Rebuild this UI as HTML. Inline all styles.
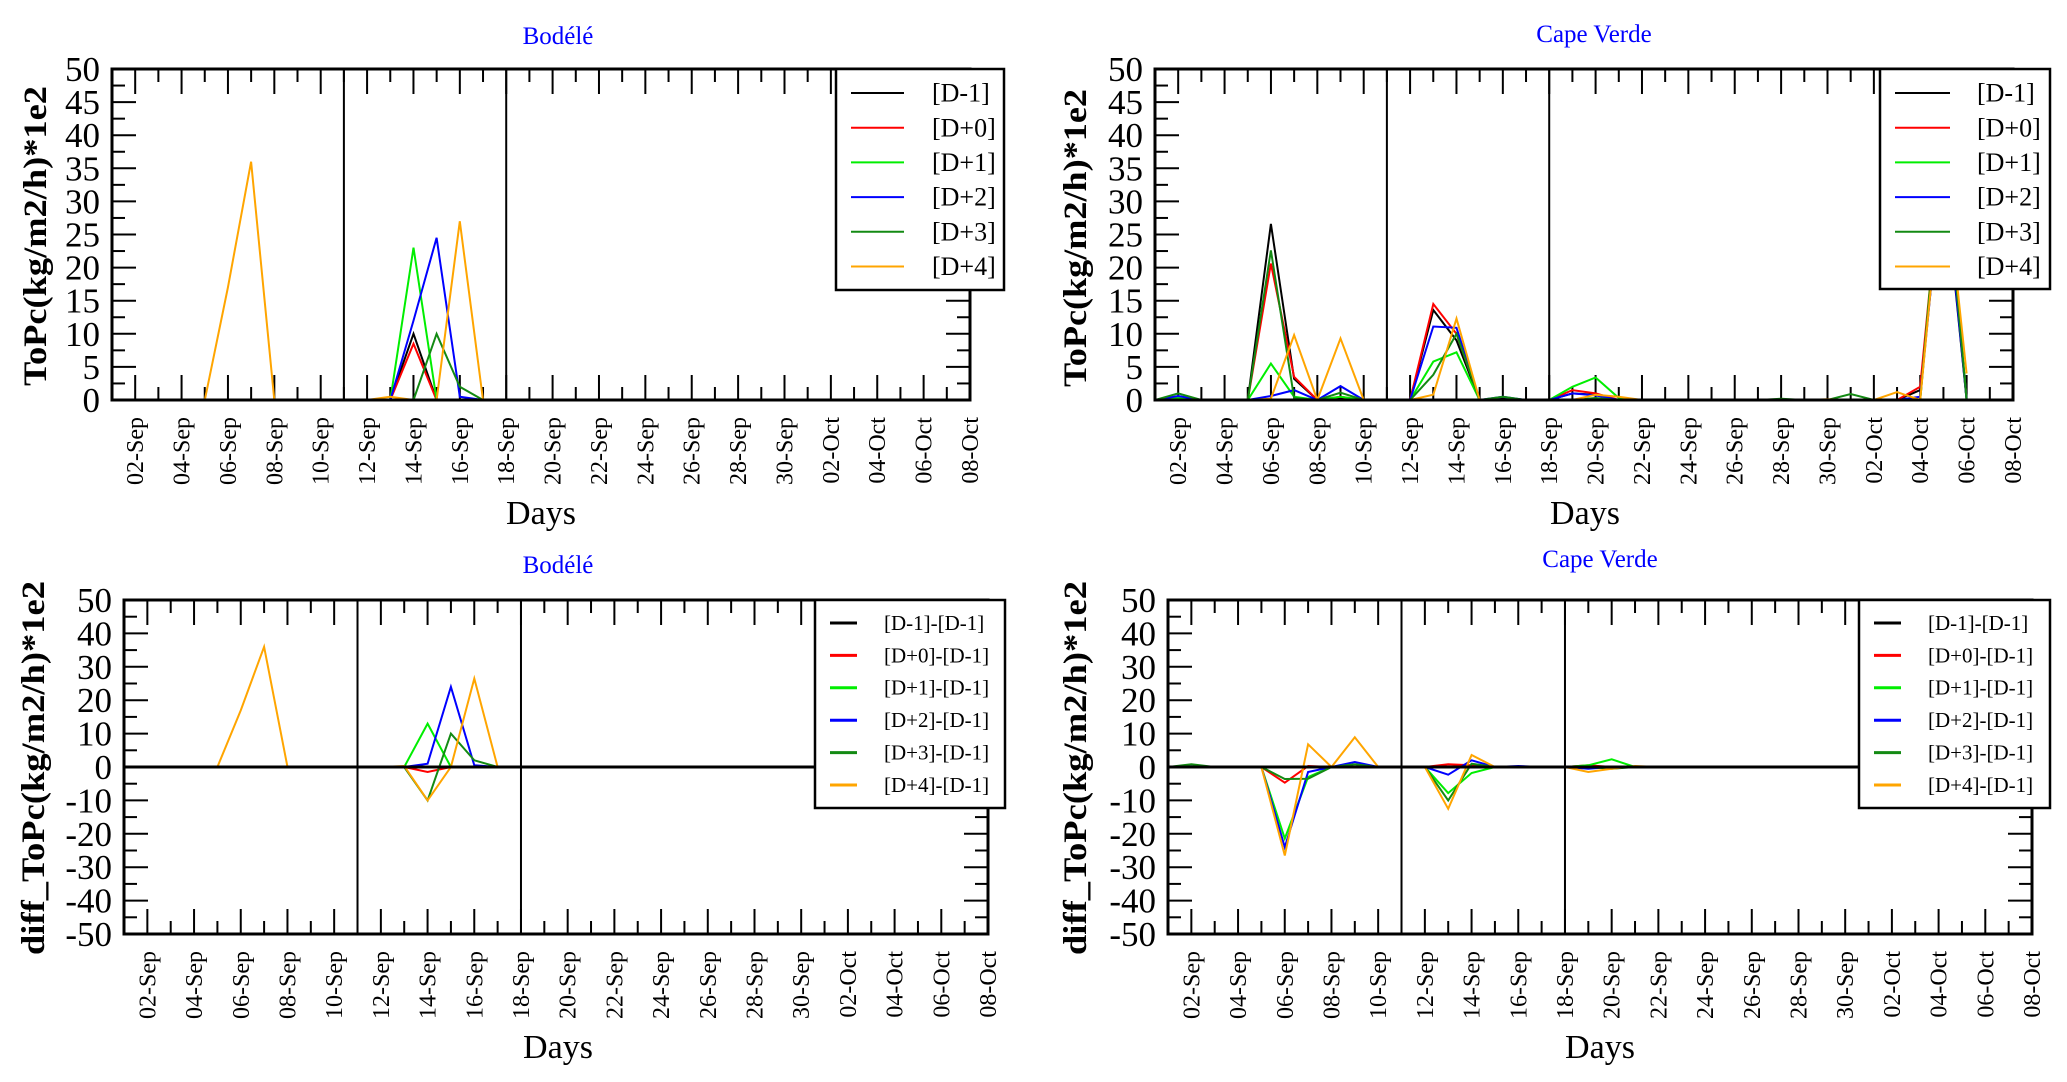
<!DOCTYPE html>
<html><head><meta charset="utf-8"><style>
html,body{margin:0;padding:0;background:#fff;}
svg{display:block;}
text{font-family:"Liberation Serif","DejaVu Serif",serif;}
</style></head><body>
<svg id="chart" width="2067" height="1082" viewBox="0 0 2067 1082" xmlns="http://www.w3.org/2000/svg"></svg>
<script>
// ---- shared axis data ----
const dayLabels = ["02-Sep","04-Sep","06-Sep","08-Sep","10-Sep","12-Sep","14-Sep","16-Sep","18-Sep","20-Sep","22-Sep","24-Sep","26-Sep","28-Sep","30-Sep","02-Oct","04-Oct","06-Oct","08-Oct"];
const topYTicks = [0,5,10,15,20,25,30,35,40,45,50];
const diffYTicks = [-50,-40,-30,-20,-10,0,10,20,30,40,50];
const seriesColors = ["#000000","#ff0000","#00ee00","#0000ff","#138a13","#ffa500"];
const topNames = ["[D-1]","[D+0]","[D+1]","[D+2]","[D+3]","[D+4]"];
const diffNames = ["[D-1]-[D-1]","[D+0]-[D-1]","[D+1]-[D-1]","[D+2]-[D-1]","[D+3]-[D-1]","[D+4]-[D-1]"];

// ---- Bodele ToPc (day index 0 = 01-Sep) ----
const bodeleTopM1 = [0,0,0,0,0,0, 0,0,0,0,0,0, 0,10,0,0,0,0, 0,0,0,0,0,0, 0,0,0,0,0,0, 0,0,0,0,0,0];
const bodeleTopP0 = [0,0,0,0,0,0, 0,0,0,0,0,0, 0,8.5,0,0,0,0, 0,0,0,0,0,0, 0,0,0,0,0,0, 0,0,0,0,0,0];
const bodeleTopP1 = [0,0,0,0,0,0, 0,0,0,0,0,0, 0,23,0,0,0,0, 0,0,0,0,0,0, 0,0,0,0,0,0, 0,0,0,0,0,0];
const bodeleTopP2 = [0,0,0,0,0,0, 0,0,0,0,0,0, 0,12,24.5,0.5,0,0, 0,0,0,0,0,0, 0,0,0,0,0,0, 0,0,0,0,0,0];
const bodeleTopP3 = [0,0,0,0,0,0, 0,0,0,0,0,0, 0,0,10,2,0,0, 0,0,0,0,0,0, 0,0,0,0,0,0, 0,0,0,0,0,0];
const bodeleTopP4 = [0,0,0,0,0,17, 36,0,0,0,0,0, 0.5,0,0,27,0,0, 0,0,0,0,0,0, 0,0,0,0,0,0, 0,0,0,0,0,0];

// ---- Bodele diff ----
const bodeleDiffM1 = [0,0,0,0,0,0, 0,0,0,0,0,0, 0,0,0,0,0,0, 0,0,0,0,0,0, 0,0,0,0,0,0, 0,0,0,0,0,0];
const bodeleDiffP0 = [0,0,0,0,0,0, 0,0,0,0,0,0, 0,-1.5,0,0,0,0, 0,0,0,0,0,0, 0,0,0,0,0,0, 0,0,0,0,0,0];
const bodeleDiffP1 = [0,0,0,0,0,0, 0,0,0,0,0,0, 0,13,0,0,0,0, 0,0,0,0,0,0, 0,0,0,0,0,0, 0,0,0,0,0,0];
const bodeleDiffP2 = [0,0,0,0,0,0, 0,0,0,0,0,0, 0,1,24,0.5,0,0, 0,0,0,0,0,0, 0,0,0,0,0,0, 0,0,0,0,0,0];
const bodeleDiffP3 = [0,0,0,0,0,0, 0,0,0,0,0,0, 0,-10,10,2,0,0, 0,0,0,0,0,0, 0,0,0,0,0,0, 0,0,0,0,0,0];
const bodeleDiffP4 = [0,0,0,0,0,17, 36,0,0,0,0,0, 0.3,-10,0,26.5,0,0, 0,0,0,0,0,0, 0,0,0,0,0,0, 0,0,0,0,0,0];

// ---- Cape Verde ToPc ----
const capeTopM1 = [0,0.5,0,0,0,26.6, 3.2,0,0.3,0,0,0, 13.6,9,0,0.3,0,0, 1,0.8,0,0,0,0, 0,0,0,0,0,0, 0,0,0,1.5,35,0];
const capeTopP0 = [0,0.3,0,0,0,20.6, 3.5,0,0.5,0,0,0, 14.5,10,0,0,0,0, 1.5,1,0,0,0,0, 0,0,0,0,0,0, 0,0,0,2,38,0];
const capeTopP1 = [0,0.3,0,0,0,5.5, 0.5,0,0.5,0,0,0, 5.8,7.2,0,0,0,0, 2,3.4,0.3,0,0,0, 0,0,0,0,0,0, 0,0,0,0,40,0];
const capeTopP2 = [0,0.6,0,0,0,0.6, 1.5,0,2.1,0,0,0, 11.1,10.9,0,0.5,0,0, 1,0.7,0,0,0,0, 0,0,0,0,0,0, 0,0,0,0.5,36,0];
const capeTopP3 = [0,1,0,0,0,22.6, 0.3,0,1.1,0,0,0, 3.8,10,0,0.5,0,0, 0,0.3,0,0,0,0, 0,0,0,0.2,0,0, 0.9,0,0,0,39,0];
const capeTopP4 = [0,0,0,0,0,0.2, 9.8,0,9.3,0,0,0, 0.8,12.3,0,0,0,0, 0,0.8,0.5,0,0,0, 0,0,0,0,0,0.1, 0,0,1.2,0,37,4];

// ---- Cape Verde diff ----
const capeDiffM1 = [0,0,0,0,0,0, 0,0,0,0,0,0, 0,0,0,0,0,0, 0,0,0,0,0,0, 0,0,0,0,0,0, 0,0,0,0,0,0];
const capeDiffP0 = [0,0,0,0,0,-4.7, 0.3,0,0,0,0,0, 0.8,0.5,0,0,0,0, 0.5,0,0,0,0,0, 0,0,0,0,0,0, 0,0,0,0,0,0];
const capeDiffP1 = [0,0,0,0,0,-21.4, -3,0,0,0,0,0, -7.8,-1.8,0,0,0,0, 0.5,2.3,0,0,0,0, 0,0,0,0,0,0, 0,0,0,0,0,0];
const capeDiffP2 = [0,0.2,0,0,0,-24, -1.5,0,1.5,0,0,0, -2.3,2,0,0.3,0,0, -0.5,0,0,0,0,0, 0,0,0,0,0,0, 0,0,0,0,0,0];
const capeDiffP3 = [0,0.8,0,0,0,-3.6, -3.5,0,0.8,0,0,0, -10,1,0,0,0,0, 0,-0.5,0,0,0,0, 0,0,0,0,0,0, 0.3,0,0,0,0,0];
const capeDiffP4 = [0,0,0,0,0,-26.5, 6.8,0,8.9,0,0,0, -12.5,3.6,0,0,0,0, -1.5,-0.5,0.3,0,0,0, 0,0,0,0,0,0, 0,0,0,0,0,0];

const NS = "http://www.w3.org/2000/svg";
const svg = document.getElementById("chart");
function mk(tag, attrs, parent) {
  const e = document.createElementNS(NS, tag);
  for (const k in attrs) e.setAttribute(k, attrs[k]);
  (parent || svg).appendChild(e);
  return e;
}

function drawPanel(cfg) {
  const g = mk("g", {});
  
  
  const L = cfg.L, R = cfg.R, T = cfg.T, B = cfg.B;
  const nDays = 37;
  const xs = d => L + d * (R - L) / nDays;
  const ys = v => B - (v - cfg.ymin) * (B - T) / (cfg.ymax - cfg.ymin);

  const cp = mk("clipPath", {id: cfg.id + "-clip"}, g);
  mk("rect", {x: L, y: T, width: R - L, height: B - T}, cp);

  for (let d = 1; d < nDays; d++) {
    const major = d % 2 === 1;
    const len = major ? 25 : 13;
    const x = xs(d);
    const t1 = mk("line", {x1: x, x2: x, y1: B, y2: B - len, stroke: "#000", "stroke-width": 2}, g);
    
    
    const t2 = mk("line", {x1: x, x2: x, y1: T, y2: T + len, stroke: "#000", "stroke-width": 2}, g);
    
    
  }
  dayLabels.forEach((lab, i) => {
    const d = 1 + 2 * i;
    const x = xs(d) + 8;
    const t = mk("text", {x: x, y: B + 17, transform: `rotate(-90 ${x} ${B + 17})`, "text-anchor": "end", "font-size": 24}, g);
    t.textContent = lab;
    
    
  });
  const yt = cfg.yticks;
  const step = yt[1] - yt[0];
  for (let i = 0; i < yt.length; i++) {
    const v = yt[i];
    const y = ys(v);
    const a = mk("line", {x1: L, x2: L + 24, y1: y, y2: y, stroke: "#000", "stroke-width": 2}, g);
    
    
    const b = mk("line", {x1: R, x2: R - 24, y1: y, y2: y, stroke: "#000", "stroke-width": 2}, g);
    
    
    if (i < yt.length - 1) {
      const ym = ys(v + step / 2);
      const c = mk("line", {x1: L, x2: L + 13, y1: ym, y2: ym, stroke: "#000", "stroke-width": 2}, g);
      
      
      const d2 = mk("line", {x1: R, x2: R - 13, y1: ym, y2: ym, stroke: "#000", "stroke-width": 2}, g);
      
      
    }
    const t = mk("text", {x: L - 12, y: y + 12, "text-anchor": "end", "font-size": 35}, g);
    t.textContent = String(v);
    
    
  }
  [10, 17].forEach(d => {
    const s = mk("line", {x1: xs(d), x2: xs(d), y1: T, y2: B, stroke: "#000", "stroke-width": 2}, g);
    
    
  });
  const dg = mk("g", {"clip-path": `url(#${cfg.id}-clip)`}, g);
  cfg.order.forEach(si => {
    const data = cfg.series[si];
    const pts = data.map((v, d) => xs(d).toFixed(1) + "," + ys(v).toFixed(1)).join(" ");
    const p = mk("polyline", {points: pts, fill: "none", stroke: seriesColors[si], "stroke-width": si === 0 && cfg.diff ? 3 : 2, "stroke-linejoin": "miter"}, dg);
    
    
  });
  const f = mk("rect", {x: L, y: T, width: R - L, height: B - T, fill: "none", stroke: "#000", "stroke-width": 3}, g);
  
  
  const lg = cfg.legend;
  const lgG = mk("g", {}, g);
  
  
  mk("rect", {x: lg.x1, y: lg.y1, width: lg.x2 - lg.x1, height: lg.y2 - lg.y1, fill: "#fff", stroke: "#000", "stroke-width": 2.5}, lgG);
  cfg.names.forEach((nm, i) => {
    const y = lg.ly0 + i * lg.ldy;
    const e = mk("g", {}, lgG);
    
    
    mk("line", {x1: lg.lx1, x2: lg.lx2, y1: y, y2: y, stroke: seriesColors[i], "stroke-width": lg.lw}, e);
    const t = mk("text", {x: lg.tx, y: y + lg.fs * 0.33, "font-size": lg.fs}, e);
    t.textContent = nm;
  });
  const tt = mk("text", {x: cfg.title.x, y: cfg.title.y, "text-anchor": "middle", "font-size": 25, fill: "#0000ff"}, g);
  tt.textContent = cfg.title.text;
  
  
  const yc = cfg.ytitle.cy;
  const yti = mk("text", {x: cfg.ytitle.x, y: yc, transform: `rotate(-90 ${cfg.ytitle.x} ${yc})`, "text-anchor": "middle", "font-size": 33, "font-weight": "bold", textLength: cfg.ytitle.len, lengthAdjust: "spacingAndGlyphs"}, g);
  yti.textContent = cfg.ytitle.text;
  
  
  const xt = mk("text", {x: cfg.xtitle.x, y: cfg.xtitle.y, "text-anchor": "middle", "font-size": 34}, g);
  xt.textContent = "Days";
  
  
}

drawPanel({id: "bodele-topc", L: 112, R: 970, T: 69, B: 400, ymin: 0, ymax: 50, yticks: topYTicks,
  series: [bodeleTopM1, bodeleTopP0, bodeleTopP1, bodeleTopP2, bodeleTopP3, bodeleTopP4], order: [0,1,2,3,4,5], names: topNames,
  legend: {x1: 836, x2: 1004, y1: 69, y2: 290, ly0: 93, ldy: 34.7, lx1: 851, lx2: 904, tx: 932, fs: 26, lw: 2},
  title: {x: 558, y: 44, text: "Bodélé"}, ytitle: {x: 46, cy: 236, len: 300, text: "ToPc(kg/m2/h)*1e2"}, xtitle: {x: 541, y: 524}});

drawPanel({id: "capeverde-topc", L: 1155, R: 2013, T: 69, B: 400, ymin: 0, ymax: 50, yticks: topYTicks,
  series: [capeTopM1, capeTopP0, capeTopP1, capeTopP2, capeTopP3, capeTopP4], order: [0,1,2,3,4,5], names: topNames,
  legend: {x1: 1880, x2: 2050, y1: 69, y2: 289, ly0: 93, ldy: 34.7, lx1: 1895, lx2: 1950, tx: 1977, fs: 26, lw: 2},
  title: {x: 1594, y: 42, text: "Cape Verde"}, ytitle: {x: 1086, cy: 238, len: 298, text: "ToPc(kg/m2/h)*1e2"}, xtitle: {x: 1585, y: 524}});

drawPanel({id: "bodele-diff", L: 124, R: 988, T: 600, B: 934, ymin: -50, ymax: 50, yticks: diffYTicks, diff: true,
  series: [bodeleDiffM1, bodeleDiffP0, bodeleDiffP1, bodeleDiffP2, bodeleDiffP3, bodeleDiffP4], order: [1,2,3,4,5,0], names: diffNames,
  legend: {x1: 815, x2: 1005, y1: 600, y2: 808, ly0: 623, ldy: 32.4, lx1: 830, lx2: 857, tx: 884, fs: 21, lw: 3},
  title: {x: 558, y: 573, text: "Bodélé"}, ytitle: {x: 44, cy: 768, len: 374, text: "diff_ToPc(kg/m2/h)*1e2"}, xtitle: {x: 558, y: 1058}});

drawPanel({id: "capeverde-diff", L: 1168, R: 2032, T: 600, B: 934, ymin: -50, ymax: 50, yticks: diffYTicks, diff: true,
  series: [capeDiffM1, capeDiffP0, capeDiffP1, capeDiffP2, capeDiffP3, capeDiffP4], order: [1,2,3,4,5,0], names: diffNames,
  legend: {x1: 1859, x2: 2050, y1: 600, y2: 808, ly0: 623, ldy: 32.4, lx1: 1874, lx2: 1901, tx: 1928, fs: 21, lw: 3},
  title: {x: 1600, y: 567, text: "Cape Verde"}, ytitle: {x: 1086, cy: 768, len: 374, text: "diff_ToPc(kg/m2/h)*1e2"}, xtitle: {x: 1600, y: 1058}});
</script>
</body></html>
